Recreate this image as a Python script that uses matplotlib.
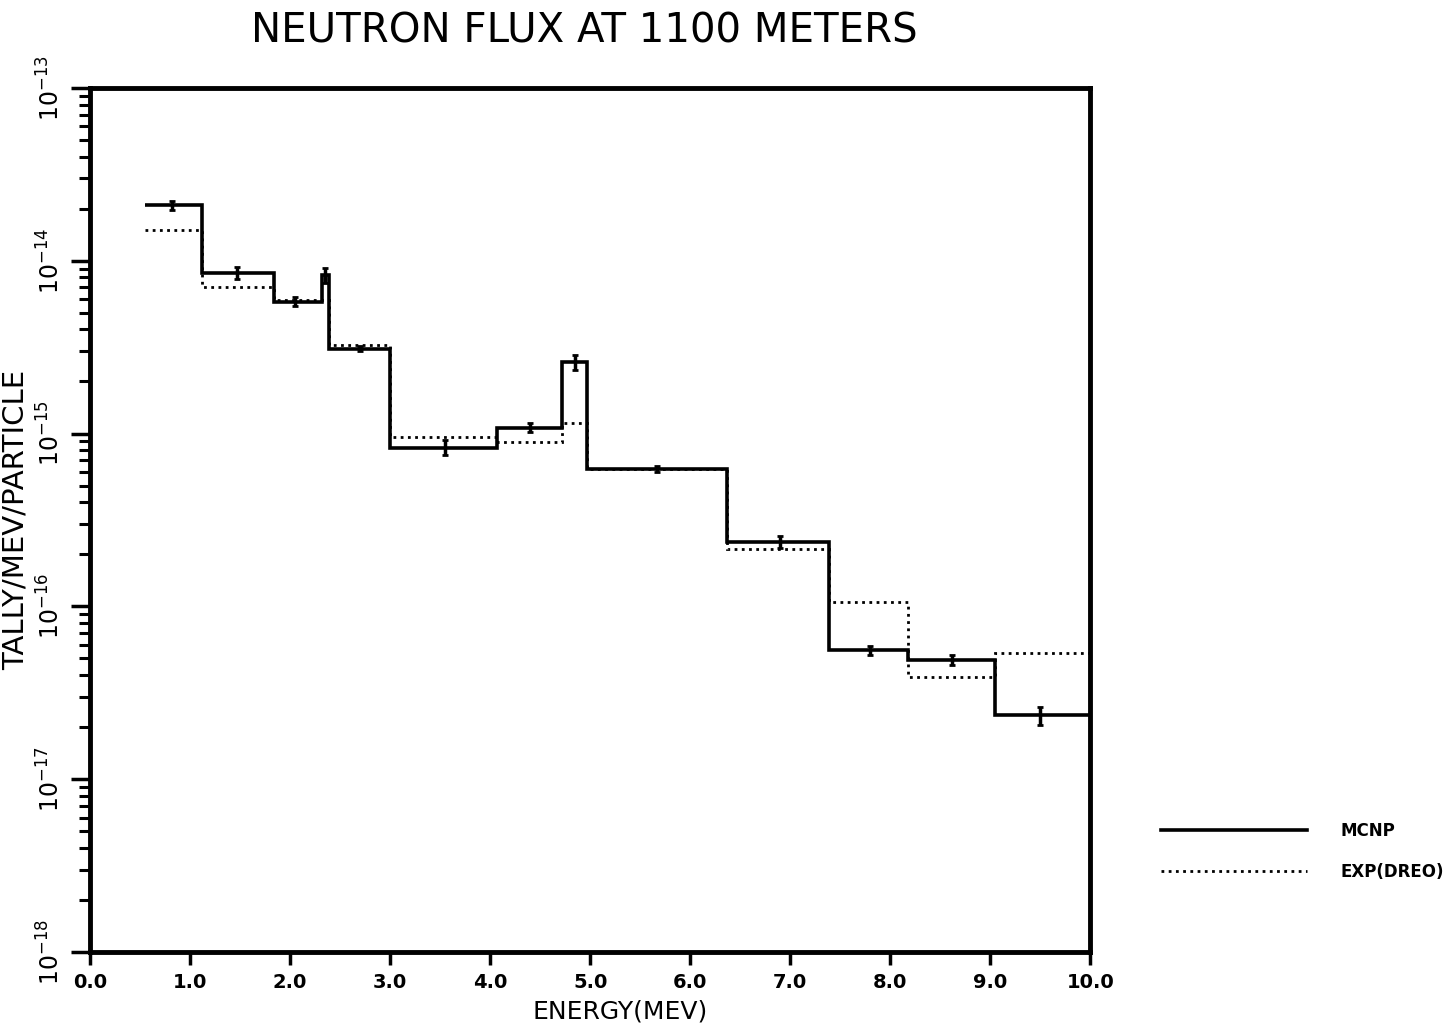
import matplotlib
matplotlib.use('Agg')
import matplotlib.pyplot as plt
import numpy as np
from matplotlib.ticker import LogLocator, NullFormatter, FixedLocator

# MCNP histogram (bin edges in MeV, tally per bin)
mcnp_edges = [0.55, 1.12, 1.84, 2.32, 2.39, 3.0, 4.07, 4.72, 4.97, 6.37, 7.39, 8.18, 9.05, 10.0]
mcnp_vals = [2.1e-14, 8.5e-15, 5.8e-15, 8.3e-15, 3.1e-15, 8.3e-16, 1.08e-15, 2.6e-15,
             6.2e-16, 2.37e-16, 5.6e-17, 4.9e-17, 2.34e-17]
# error bar positions and relative errors
err_x = [0.82, 1.47, 2.05, 2.35, 2.7, 3.55, 4.4, 4.85, 5.67, 6.9, 7.8, 8.62, 9.5]
err_rel = [0.06, 0.08, 0.06, 0.10, 0.03, 0.10, 0.06, 0.10, 0.04, 0.08, 0.06, 0.07, 0.12]

# experiment (DREO)
exp_edges = [0.55, 1.12, 1.84, 2.39, 3.0, 4.07, 4.72, 4.97, 6.37, 7.39, 8.18, 9.05, 10.0]
exp_vals = [1.5e-14, 7.0e-15, 5.9e-15, 3.26e-15, 9.5e-16, 8.9e-16, 1.15e-15, 6.2e-16,
            2.15e-16, 1.06e-16, 3.9e-17, 5.4e-17]

x_ticks = [0, 1, 2, 3, 4, 5, 6, 7, 8, 9, 10]
x_labels = ['0.0', '1.0', '2.0', '3.0', '4.0', '5.0', '6.0', '7.0', '8.0', '9.0', '10.0']
y_exps = [-18, -17, -16, -15, -14, -13]

fig = plt.figure(figsize=(14.5, 10.3), dpi=100)
ax = fig.add_axes([0.062, 0.0757, 0.690, 0.839])

ax.stairs(mcnp_vals, mcnp_edges, color='black', lw=2.6, baseline=None, label='MCNP')
ax.stairs(exp_vals, exp_edges, color='black', lw=2.0, ls=(0, (1, 1.6)), baseline=None,
          label='EXP(DREO)')

# error bars on MCNP
ex = np.array(err_x)
ey = np.array([mcnp_vals[np.searchsorted(mcnp_edges, x) - 1] for x in ex])
ax.errorbar(ex, ey, yerr=ey * np.array(err_rel), fmt='none', ecolor='black',
            elinewidth=2.5, capsize=2.5, capthick=2)

ax.set_yscale('log')
ax.set_xlim(0, 10)
ax.set_ylim(1e-18, 1e-13)

for s in ax.spines.values():
    s.set_linewidth(3.5)

ax.xaxis.set_major_locator(FixedLocator(x_ticks))
ax.set_xticklabels(x_labels, fontsize=14, fontweight='bold')
ax.tick_params(axis='x', direction='out', length=9, width=2.5, pad=6)

ax.yaxis.set_major_locator(FixedLocator([10.0 ** e for e in y_exps]))
ax.yaxis.set_minor_locator(LogLocator(base=10, subs=range(2, 10)))
ax.yaxis.set_minor_formatter(NullFormatter())
ax.set_yticklabels([r'$10^{%d}$' % e for e in y_exps], fontsize=17, rotation=90, va='center')
ax.tick_params(axis='y', which='major', direction='out', length=14, width=2.5, pad=4)
ax.tick_params(axis='y', which='minor', direction='out', length=8, width=2.2)

ax.set_xlabel('ENERGY(MEV)', fontsize=18, labelpad=2)
ax.xaxis.set_label_coords(0.53, -0.055)
ax.set_ylabel('TALLY/MEV/PARTICLE', fontsize=21, labelpad=6)
fig.text(0.403, 0.969, 'NEUTRON FLUX AT 1100 METERS', fontsize=29, ha='center', va='center')

# legend drawn outside the axes on the right
fig.legend(loc='lower left', bbox_to_anchor=(0.79, 0.13), frameon=False,
           handlelength=8.8, handletextpad=2.0, labelspacing=1.4,
           prop={'size': 12, 'weight': 'bold'})

plt.savefig('out.png', dpi=100)
